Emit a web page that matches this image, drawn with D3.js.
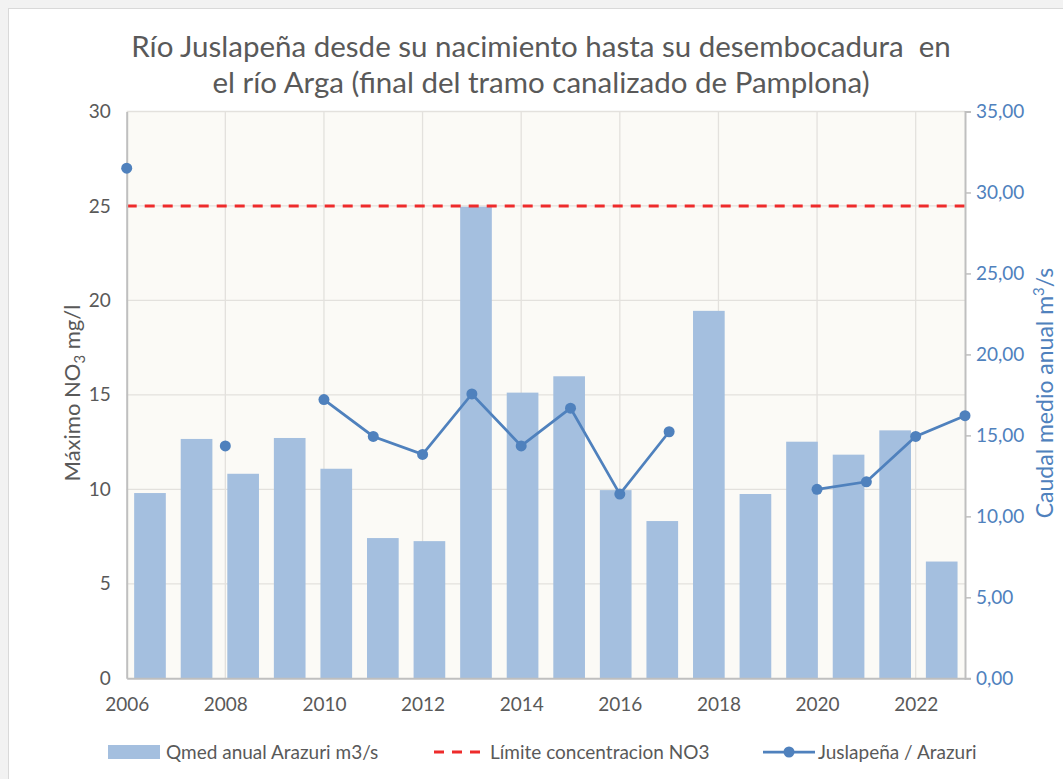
<!DOCTYPE html>
<html>
<head>
<meta charset="utf-8">
<script src="https://cdn.jsdelivr.net/npm/d3@7"></script>
<style>
  body { margin: 0; background: #fff; }
  svg text { font-family: Lato, "Noto Sans", sans-serif; }
</style>
</head>
<body>
<svg id="chart" width="1063" height="779"></svg>
<script>
// data
const years = [2006, 2007, 2008, 2009, 2010, 2011, 2012, 2013, 2014, 2015, 2016, 2017, 2018, 2019, 2020, 2021, 2022, 2023]
const qmed = [11.44, 14.78, 12.63, 14.84, 12.94, 8.66, 8.47, 29.12, 17.64, 18.65, 11.62, 9.71, 22.69, 11.38, 14.61, 13.81, 15.31, 7.21]   // m3/s, right axis
const no3 = [27.0, null, 12.3, null, 14.75, 12.8, 11.85, 15.05, 12.3, 14.3, 9.75, 13.05, null, null, 10.0, 10.4, 12.8, 13.9]         // mg/l, left axis
const limite = 25
const leftTicks = [0, 5, 10, 15, 20, 25, 30]
const rightTicks = [0, 5, 10, 15, 20, 25, 30, 35]
const xTicks = [2006, 2008, 2010, 2012, 2014, 2016, 2018, 2020, 2022]
const titleLines = ["Río Juslapeña desde su nacimiento hasta su desembocadura\u00a0 en", "el río Arga (final del tramo canalizado de Pamplona)"]

const grey = "#595959"
const blue = "#4F81BD"
const barColor = "#A4BFDF"
const fs = "19px"

const svg = d3.select("#chart")

// outer frame of the excel chart
svg.append("rect").attr("x", 0).attr("y", 0).attr("width", 1063).attr("height", 779).attr("fill", "#f2f2f2")
svg.append("rect").attr("x", 8.5).attr("y", 8.5).attr("width", 1060).attr("height", 775)
  .attr("fill", "#fff").attr("stroke", "#d9d9d9")

const plot = {left: 126.7, right: 965, top: 111.5, bottom: 678.3}

const x = d3.scaleLinear().domain([2006, 2023]).range([plot.left, plot.right])
const xBand = d3.scaleBand().domain(years).range([plot.left, plot.right]).paddingInner(0.32).paddingOuter(0.16)
const yL = d3.scaleLinear().domain([0, 30]).range([plot.bottom, plot.top])
const yR = d3.scaleLinear().domain([0, 35]).range([plot.bottom, plot.top])

svg.append("rect")
  .attr("x", plot.left).attr("y", plot.top)
  .attr("width", plot.right - plot.left).attr("height", plot.bottom - plot.top)
  .attr("fill", "#FBFAF6")

// gridlines
svg.append("g").selectAll("line")
  .data(leftTicks.slice(1))
  .join("line")
  .attr("x1", plot.left).attr("x2", plot.right)
  .attr("y1", d => yL(d)).attr("y2", d => yL(d))
  .attr("stroke", "#E3E1DD").attr("stroke-width", 1.3)

svg.append("g").selectAll("line")
  .data(xTicks.slice(1))
  .join("line")
  .attr("x1", d => x(d)).attr("x2", d => x(d))
  .attr("y1", plot.top).attr("y2", plot.bottom)
  .attr("stroke", "#E3E1DD").attr("stroke-width", 1.3)

// bars (secondary axis)
svg.append("g").selectAll("rect")
  .data(years.map((yr, i) => ({yr, v: qmed[i]})))
  .join("rect")
  .attr("x", d => xBand(d.yr))
  .attr("width", xBand.bandwidth())
  .attr("y", d => yR(d.v))
  .attr("height", d => yR(0) - yR(d.v))
  .attr("fill", barColor)

// limit line
svg.append("line")
  .attr("x1", plot.left).attr("x2", plot.right)
  .attr("y1", yL(limite)).attr("y2", yL(limite))
  .attr("stroke", "#EE2B2B").attr("stroke-width", 3)
  .attr("stroke-dasharray", "10,8")

// axes
const axL = svg.append("g")
  .attr("transform", `translate(${plot.left},0)`)
  .call(d3.axisLeft(yL).tickValues(leftTicks).tickSize(0).tickPadding(16))
axL.select(".domain").attr("stroke", "#BFBFBF").attr("stroke-width", 2)
axL.selectAll("text").attr("fill", grey).style("font-size", fs)

const axR = svg.append("g")
  .attr("transform", `translate(${plot.right},0)`)
  .call(d3.axisRight(yR).tickValues(rightTicks).tickSize(6).tickPadding(5)
    .tickFormat(d => d3.format(".2f")(d).replace(".", ",")))
axR.select(".domain").attr("stroke", "#BFBFBF").attr("stroke-width", 2)
axR.selectAll("line").attr("stroke", "#BFBFBF").attr("stroke-width", 1.5)
axR.selectAll("text").attr("fill", blue).style("font-size", fs)

const axB = svg.append("g")
  .attr("transform", `translate(0,${plot.bottom})`)
  .call(d3.axisBottom(x).tickValues(xTicks).tickSize(0).tickPadding(19).tickFormat(d3.format("d")))
axB.select(".domain").attr("stroke", "#BFBFBF").attr("stroke-width", 2)
axB.selectAll("text").attr("fill", grey).style("font-size", fs)

// NO3 line + markers
const pts = years.map((yr, i) => ({yr, v: no3[i]}))
svg.append("path")
  .datum(pts)
  .attr("fill", "none")
  .attr("stroke", blue)
  .attr("stroke-width", 2.75)
  .attr("d", d3.line().defined(d => d.v != null).x(d => x(d.yr)).y(d => yL(d.v)))

svg.append("g").selectAll("circle")
  .data(pts.filter(d => d.v != null))
  .join("circle")
  .attr("cx", d => x(d.yr)).attr("cy", d => yL(d.v))
  .attr("r", 5.5).attr("fill", blue)

// title
svg.append("g").selectAll("text")
  .data(titleLines)
  .join("text")
  .attr("x", 541).attr("y", (d, i) => 57 + i * 36)
  .attr("text-anchor", "middle")
  .attr("fill", grey)
  .style("font-size", "29.5px")
  .text(d => d)

// axis titles
const tl = svg.append("text")
  .attr("transform", `translate(80,393) rotate(-90)`)
  .attr("text-anchor", "middle")
  .attr("fill", grey)
  .style("font-size", "22px")
tl.append("tspan").text("Máximo NO")
tl.append("tspan").text("3").style("font-size", "15px").attr("dy", 5)
tl.append("tspan").text(" mg/l").attr("dy", -5)

const tr = svg.append("text")
  .attr("transform", `translate(1053,393) rotate(-90)`)
  .attr("text-anchor", "middle")
  .attr("fill", blue)
  .style("font-size", "23px")
tr.append("tspan").text("Caudal medio anual m")
tr.append("tspan").text("3").style("font-size", "15px").attr("dy", -9)
tr.append("tspan").text("/s").attr("dy", 9)

// legend
const lg = svg.append("g").attr("transform", "translate(0,752)")
lg.append("rect").attr("x", 108).attr("y", -7).attr("width", 52).attr("height", 14).attr("fill", barColor)
lg.append("text").attr("x", 166).attr("y", 6.5).attr("fill", grey).style("font-size", fs).text("Qmed anual Arazuri m3/s")
lg.append("line").attr("x1", 434).attr("x2", 484).attr("y1", 0).attr("y2", 0)
  .attr("stroke", "#EE2B2B").attr("stroke-width", 3).attr("stroke-dasharray", "10,8")
lg.append("text").attr("x", 490).attr("y", 6.5).attr("fill", grey).style("font-size", fs).text("Límite concentracion NO3")
lg.append("line").attr("x1", 763).attr("x2", 815).attr("y1", 0).attr("y2", 0)
  .attr("stroke", blue).attr("stroke-width", 2.75)
lg.append("circle").attr("cx", 789).attr("cy", 0).attr("r", 5.5).attr("fill", blue)
lg.append("text").attr("x", 818).attr("y", 6.5).attr("fill", grey).style("font-size", fs).text("Juslapeña / Arazuri")
</script>
</body>
</html>
